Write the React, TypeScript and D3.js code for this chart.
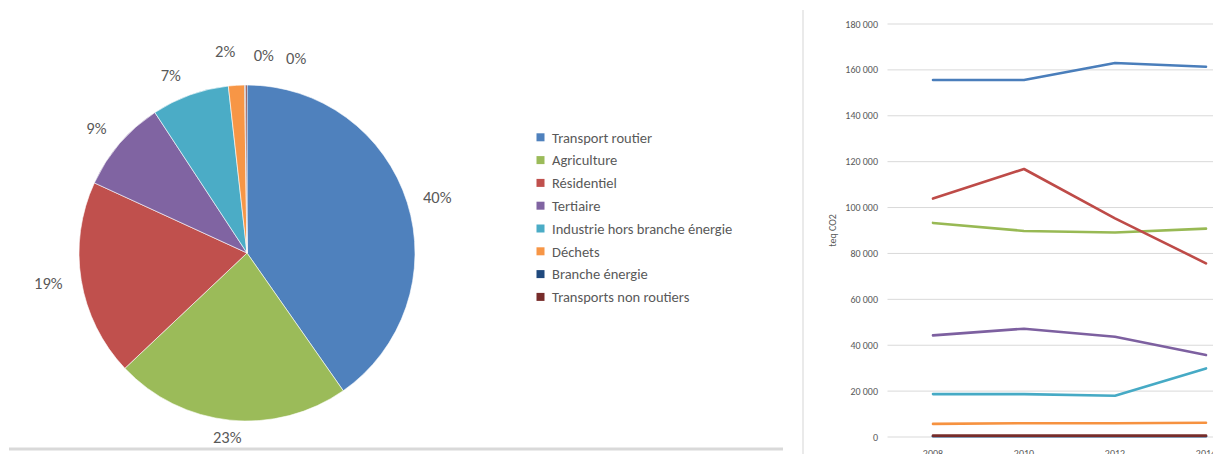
import React from "react";
import * as d3 from "d3";

// ---------- DATA ----------
const categories = [
  "Transport routier",
  "Agriculture",
  "Résidentiel",
  "Tertiaire",
  "Industrie hors branche énergie",
  "Déchets",
  "Branche énergie",
  "Transports non routiers",
];
const years = ["2008", "2010", "2012", "2014"];

const transportRoutier = [155600, 155600, 163000, 161400];
const agriculture = [93300, 89800, 89100, 90800];
const residentiel = [103900, 116800, 95300, 75700];
const tertiaire = [44300, 47200, 43700, 35700];
const industrie = [18700, 18700, 18000, 29900];
const dechets = [5700, 6000, 6000, 6200];
const brancheEnergie = [300, 300, 300, 300];
const transportsNonRoutiers = [600, 600, 600, 600];

const seriesValues = [
  transportRoutier,
  agriculture,
  residentiel,
  tertiaire,
  industrie,
  dechets,
  brancheEnergie,
  transportsNonRoutiers,
];

// pie = 2014 shares
const pieValues = seriesValues.map((s) => s[3]);

const yTicks = [0, 20000, 40000, 60000, 80000, 100000, 120000, 140000, 160000, 180000];

// ---------- STYLE ----------
const colors = ["#4F81BD", "#9BBB59", "#C0504D", "#8064A2", "#4BACC6", "#F79646", "#1F497D", "#772C2A"];
const lineColors = ["#4A7EBB", "#98B954", "#BE4B48", "#7D60A0", "#46AAC5", "#F69240", "#1F497D", "#772C2A"];
const FONT = "Carlito, Calibri, Lato, 'Open Sans', sans-serif";
const TEXT = "#595959";
// label layout nudges for the crowded small slices (Excel best-fit)
const labelNudge: [number, number][] = [
  [5, 1], [0, -3], [-7, 0], [-7, -2], [-12, -1], [-10, -14], [19, -10], [50, -7],
];

const fr = d3.formatLocale({ decimal: ",", thousands: "\u00a0", grouping: [3], currency: ["", "€"] });
const fmt = fr.format(",d");
const pct = d3.format(".0%");

export default function App() {
  if (typeof document !== "undefined") {
    document.body.style.margin = "0";
    document.body.style.overflow = "hidden";
  }
  const W = 1213, H = 454;

  // ---- pie ----
  const cx = 247, cy = 253, r = 168;
  const total = d3.sum(pieValues);
  const pie = d3.pie<number>().sort(null).value((d) => d).startAngle(0).endAngle(2 * Math.PI);
  const arcs = pie(pieValues);
  const arc = d3.arc<d3.PieArcDatum<number>>().innerRadius(0).outerRadius(r);
  const labelFont = 16.5;
  const pad = 12;

  // ---- line chart ----
  const x = d3.scaleBand<string>().domain(years).range([887.5, 1251.5]).padding(0);
  const y = d3.scaleLinear().domain([0, 180000]).range([437, 24]);
  const xc = (yr: string) => (x(yr) as number) + x.bandwidth() / 2;
  const line = d3
    .line<number>()
    .x((_, i) => xc(years[i]))
    .y((d) => y(d));

  return (
    <svg width={W} height={H} style={{ position: "absolute", left: 0, top: 0, background: "#fff" }} fontFamily={FONT}>
      {/* pie */}
      <g transform={`translate(${cx},${cy})`}>
        {arcs.map((a, i) => (
          <path key={i} d={arc(a) || ""} fill={colors[i]} stroke="#fff" strokeWidth={0.6} />
        ))}
        {arcs.map((a, i) => {
          const m = (a.startAngle + a.endAngle) / 2;
          const dx = Math.sin(m), dy = -Math.cos(m);
          const txt = pct(a.value / total);
          const w = txt.length * 9.5;
          const lx = (r + pad) * dx + dx * (w / 2) + labelNudge[i][0];
          const ly = (r + pad) * dy + dy * 8 + labelNudge[i][1];
          return (
            <text key={i} x={lx} y={ly} dy="0.35em" textAnchor="middle" fontSize={labelFont} fill={TEXT}>
              {txt}
            </text>
          );
        })}
      </g>

      {/* legend */}
      <g>
        {categories.map((c, i) => {
          const ly = 137.3 + i * 22.8;
          return (
            <g key={c}>
              <rect x={536.5} y={ly - 4} width={8} height={8} fill={colors[i]} />
              <text x={552} y={ly} dy="0.36em" fontSize={14.5} fill={TEXT}>
                {c}
              </text>
            </g>
          );
        })}
      </g>

      {/* separators */}
      <line x1={9} x2={783} y1={449} y2={449} stroke="#d9d9d9" strokeWidth={3} />
      <line x1={803} x2={803} y1={10} y2={H} stroke="#e3e3e3" strokeWidth={1.5} />

      {/* line chart grid & axis */}
      <g>
        {yTicks.map((t) => (
          <g key={t}>
            <line x1={887.5} x2={W} y1={y(t)} y2={y(t)} stroke="#d9d9d9" strokeWidth={1} />
            <text x={878} y={y(t)} dy="0.35em" textAnchor="end" fontSize={10} fill={TEXT}>
              {fmt(t)}
            </text>
          </g>
        ))}
        {years.map((yr) => (
          <text key={yr} x={xc(yr)} y={457} textAnchor="middle" fontSize={10} fill={TEXT}>
            {yr}
          </text>
        ))}
        <text
          transform={`translate(832,${(y(0) + y(180000)) / 2})rotate(-90)`}
          textAnchor="middle"
          dy="0.35em"
          fontSize={10}
          fill={TEXT}
        >
          teq CO2
        </text>
      </g>

      {/* lines */}
      <g fill="none" strokeWidth={2.6} strokeLinejoin="round" strokeLinecap="round">
        {seriesValues.map((s, i) => (
          <path key={i} d={line(s) || ""} stroke={lineColors[i]} />
        ))}
      </g>
    </svg>
  );
}
